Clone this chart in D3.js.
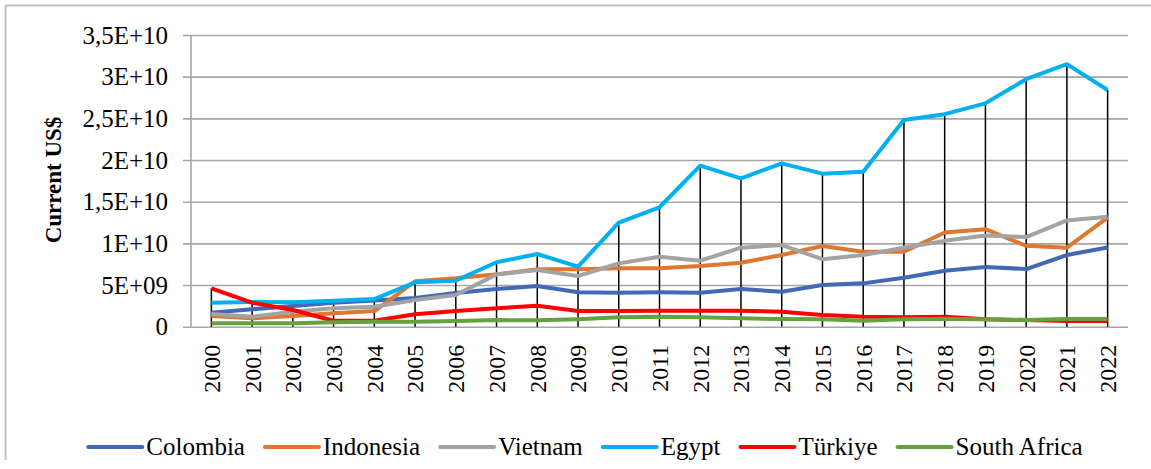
<!DOCTYPE html>
<html>
<head>
<meta charset="utf-8">
<script src="https://cdn.jsdelivr.net/npm/d3@7/dist/d3.min.js"></script>
<style>
  html, body { margin: 0; padding: 0; background: #fff; }
  svg { display: block; }
  text { font-family: "Liberation Serif", "Times New Roman", serif; fill: #000; }
</style>
</head>
<body>
<svg id="chart" width="1151" height="469"></svg>
<script>
const years = ["2000","2001","2002","2003","2004","2005","2006","2007","2008","2009","2010","2011","2012","2013","2014","2015","2016","2017","2018","2019","2020","2021","2022"];

const colombia  = [1.68e9,2.09e9,2.48e9,2.88e9,3.15e9,3.45e9,4.05e9,4.52e9,4.88e9,4.13e9,4.08e9,4.13e9,4.08e9,4.52e9,4.2e9,5.0e9,5.2e9,5.88e9,6.72e9,7.16e9,6.92e9,8.6e9,9.5e9];
const indonesia = [1.28e9,1.0e9,1.28e9,1.6e9,1.88e9,5.45e9,5.8e9,6.28e9,6.9e9,6.9e9,7.0e9,7.0e9,7.28e9,7.68e9,8.6e9,9.68e9,9.0e9,9.0e9,11.3e9,11.7e9,9.7e9,9.48e9,13.1e9];
const vietnam   = [1.52e9,1.2e9,1.8e9,2.2e9,2.4e9,3.2e9,3.8e9,6.28e9,6.8e9,6.08e9,7.6e9,8.4e9,7.92e9,9.48e9,9.8e9,8.1e9,8.6e9,9.48e9,10.3e9,10.95e9,10.75e9,12.75e9,13.2e9];
const egypt     = [2.88e9,2.95e9,2.93e9,3.12e9,3.32e9,5.33e9,5.52e9,7.73e9,8.72e9,7.2e9,12.48e9,14.33e9,19.32e9,17.8e9,19.6e9,18.36e9,18.6e9,24.8e9,25.5e9,26.8e9,29.7e9,31.5e9,28.4e9];
const turkiye   = [4.61e9,2.88e9,2.0e9,0.72e9,0.72e9,1.49e9,1.88e9,2.2e9,2.52e9,1.88e9,1.88e9,1.9e9,1.9e9,1.9e9,1.8e9,1.4e9,1.2e9,1.12e9,1.2e9,0.89e9,0.8e9,0.68e9,0.68e9];
const southAfrica = [0.4e9,0.4e9,0.4e9,0.53e9,0.6e9,0.6e9,0.68e9,0.8e9,0.76e9,0.89e9,1.12e9,1.2e9,1.12e9,1.0e9,0.92e9,0.89e9,0.72e9,0.89e9,0.92e9,0.89e9,0.8e9,0.92e9,0.92e9];

const seriesNames = ["Colombia","Indonesia","Vietnam","Egypt","Türkiye","South Africa"];
const seriesValues = [colombia, indonesia, vietnam, egypt, turkiye, southAfrica];
const seriesColors = ["#4169B5","#DF7632","#A3A3A3","#00B0F0","#FF0000","#66A140"];

const yTickValues = [0,5e9,1e10,1.5e10,2e10,2.5e10,3e10,3.5e10];
const yTickLabels = ["0","5E+09","1E+10","1,5E+10","2E+10","2,5E+10","3E+10","3,5E+10"];
const yTitle = "Current US$";

const svg = d3.select("#chart");
const plotLeft = 191, plotRight = 1128, plotTop = 35, plotBottom = 326.7;

// outer border (top and left visible)
svg.append("line").attr("x1",5.5).attr("x2",1151).attr("y1",5.5).attr("y2",5.5)
  .attr("stroke","#BFBFBF").attr("stroke-width",2);
svg.append("line").attr("x1",5.5).attr("x2",5.5).attr("y1",5.5).attr("y2",460)
  .attr("stroke","#BFBFBF").attr("stroke-width",2);

const x = d3.scaleBand().domain(years).range([plotLeft, plotRight]).padding(0);
const y = d3.scaleLinear().domain([0, 3.5e10]).range([plotBottom, plotTop]);
const cx = d => x(d) + x.bandwidth()/2;

// gridlines + y labels
const yAxis = d3.axisLeft(y).tickValues(yTickValues)
  .tickFormat((d,i) => yTickLabels[i])
  .tickSize(-(plotRight - 183)).tickPadding(15);
const gy = svg.append("g").attr("transform","translate(183,0)").call(yAxis);
gy.select(".domain").remove();
gy.selectAll(".tick line").attr("stroke","#A6A6A6").attr("stroke-width",1.6);
gy.selectAll(".tick text").attr("font-size",25).attr("font-family","'Liberation Serif', serif").attr("fill","#000");

// y axis line
svg.append("line").attr("x1",plotLeft).attr("x2",plotLeft).attr("y1",plotTop).attr("y2",plotBottom)
  .attr("stroke","#A6A6A6").attr("stroke-width",1.6);

// x labels
const xAxis = d3.axisBottom(x).tickSize(0).tickPadding(0);
const gx = svg.append("g").attr("transform",`translate(0,${plotBottom})`).call(xAxis);
gx.select(".domain").remove();
gx.selectAll(".tick text")
  .attr("font-size",24).attr("font-family","'Liberation Serif', serif").attr("fill","#000")
  .attr("text-anchor","end")
  .attr("transform","translate(0,18) rotate(-90)")
  .attr("x",0).attr("y",0).attr("dy","0.35em");

// drop lines from max value to axis
const maxVals = years.map((yr,i) => d3.max(seriesValues, s => s[i]));
svg.append("g").selectAll("line").data(years).join("line")
  .attr("x1", d => cx(d)).attr("x2", d => cx(d))
  .attr("y1", (d,i) => y(maxVals[i])).attr("y2", y(0))
  .attr("stroke","#000").attr("stroke-width",1.5);

// series lines
const line = d3.line().x((v,i) => cx(years[i])).y(v => y(v));
svg.append("g").selectAll("path").data(seriesValues).join("path")
  .attr("d", d => line(d))
  .attr("fill","none")
  .attr("stroke",(d,i) => seriesColors[i])
  .attr("stroke-width",4)
  .attr("stroke-linejoin","round");

// y title
svg.append("text").attr("transform","translate(61,180) rotate(-90)")
  .attr("text-anchor","middle").attr("font-size",23).attr("font-weight","bold").text(yTitle);

// legend
const legend = svg.append("g");
const lineLen = 54, gap1 = 4, gap2 = 20, legY = 447;
const items = legend.selectAll("g").data(seriesNames).join("g");
items.append("line").attr("x1",0).attr("x2",lineLen).attr("y1",0).attr("y2",0)
  .attr("stroke",(d,i) => seriesColors[i]).attr("stroke-width",4).attr("stroke-linecap","round");
items.append("text").attr("x", lineLen + gap1).attr("y", 0).attr("dy","0.33em")
  .attr("font-size",25).text(d => d);
let widths = [];
items.each(function(){ widths.push(lineLen + gap1 + d3.select(this).select("text").node().getComputedTextLength()); });
const total = d3.sum(widths) + gap2*(widths.length-1);
let startX = 585.5 - total/2;
items.attr("transform",(d,i) => {
  const tx = startX + d3.sum(widths.slice(0,i)) + gap2*i;
  return `translate(${tx},${legY})`;
});
</script>
</body>
</html>
